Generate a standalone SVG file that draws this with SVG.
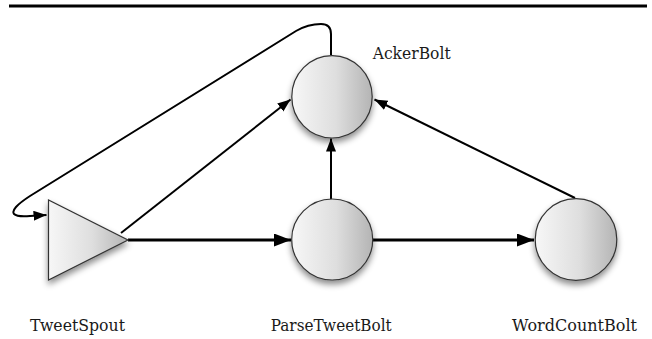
<svg xmlns="http://www.w3.org/2000/svg" width="652" height="339" viewBox="0 0 652 339">
<style>
.lbl{font-family:'DejaVu Serif','Liberation Serif',serif;font-size:17px;fill:#1a1a1a}
.node{stroke:#333;stroke-width:1.2}
.thin{fill:none;stroke:#000;stroke-width:2}
.thick{fill:none;stroke:#000;stroke-width:3}
</style>
<defs>
<linearGradient id="g" x1="0" y1="0" x2="1" y2="0">
<stop offset="0" stop-color="#f7f7f7"/>
<stop offset="0.55" stop-color="#dedede"/>
<stop offset="1" stop-color="#b4b4b4"/>
</linearGradient>
<filter id="sh" x="-30%" y="-30%" width="160%" height="170%">
<feDropShadow dx="0" dy="4" stdDeviation="3" flood-color="#000" flood-opacity="0.45"/>
</filter>
<marker id="a1" markerUnits="userSpaceOnUse" markerWidth="14" markerHeight="12" refX="13" refY="5" orient="auto">
<path d="M0,0 L13,5 L0,10 Z" fill="#000"/>
</marker>
<marker id="a2" markerUnits="userSpaceOnUse" markerWidth="18" markerHeight="14" refX="17" refY="6.5" orient="auto">
<path d="M0,0 L17,6.5 L0,13 Z" fill="#000"/>
</marker>
</defs>
<rect width="652" height="339" fill="#fff"/>
<line x1="9" y1="6" x2="647" y2="6" stroke="#000" stroke-width="3"/>
<g id="connectors">
<path class="thin" d="M331,55 V34 Q331,24 321,24 Q308,24 296,31 L30,196 Q10,209 14,214 Q17,217 30,216 L46.5,215" marker-end="url(#a1)"/>
<line class="thin" x1="121" y1="233" x2="290.5" y2="99.5" marker-end="url(#a1)"/>
<line class="thin" x1="331" y1="199" x2="331" y2="138.5" marker-end="url(#a1)"/>
<line class="thin" x1="575" y1="198" x2="374.5" y2="99.5" marker-end="url(#a1)"/>
<line class="thick" x1="128" y1="240" x2="291" y2="240" marker-end="url(#a2)"/>
<line class="thick" x1="373" y1="240" x2="534" y2="240" marker-end="url(#a2)"/>
</g>
<g id="TweetSpout">
<polygon class="node" points="48.5,200 48.5,280 128,240" fill="url(#g)" filter="url(#sh)"/>
<text class="lbl" x="30" y="331" textLength="95" lengthAdjust="spacingAndGlyphs">TweetSpout</text>
</g>
<g id="AckerBolt">
<ellipse class="node" cx="332" cy="96.8" rx="40.2" ry="41.2" fill="url(#g)" filter="url(#sh)"/>
<text class="lbl" x="372.7" y="59" textLength="78" lengthAdjust="spacingAndGlyphs">AckerBolt</text>
</g>
<g id="ParseTweetBolt">
<circle class="node" cx="332.2" cy="239.5" r="40.5" fill="url(#g)" filter="url(#sh)"/>
<text class="lbl" x="270.7" y="331" textLength="121" lengthAdjust="spacingAndGlyphs">ParseTweetBolt</text>
</g>
<g id="WordCountBolt">
<circle class="node" cx="576" cy="239.5" r="40.8" fill="url(#g)" filter="url(#sh)"/>
<text class="lbl" x="512" y="331" textLength="125" lengthAdjust="spacingAndGlyphs">WordCountBolt</text>
</g>
</svg>
